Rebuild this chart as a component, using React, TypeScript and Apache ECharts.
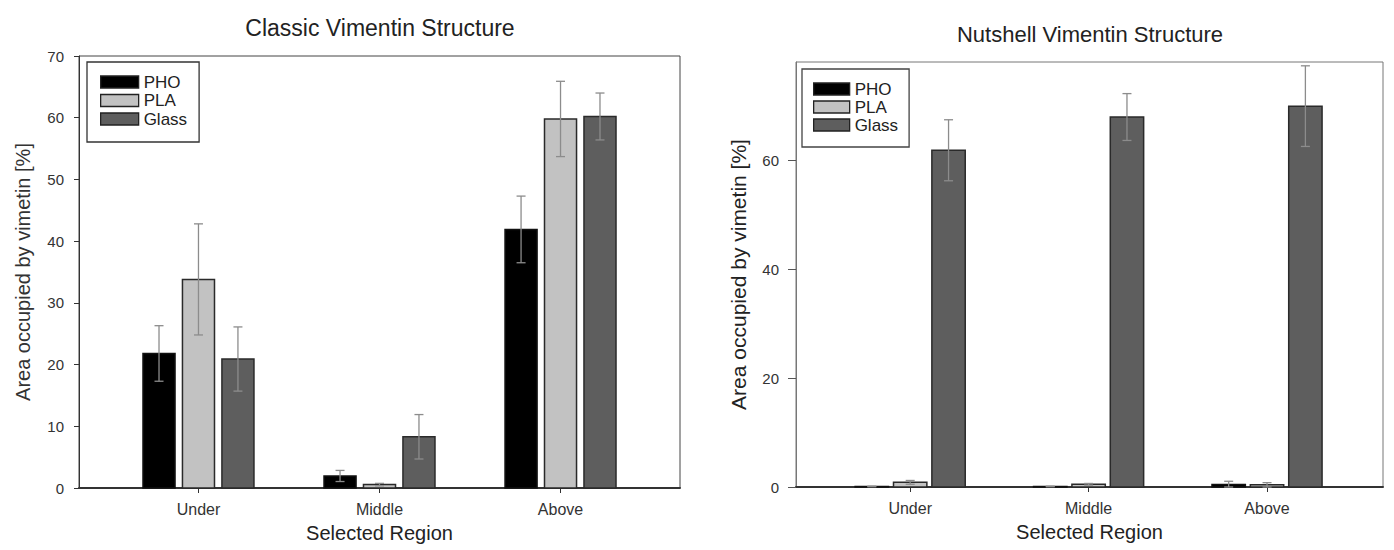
import React, { useEffect, useRef } from 'react';
import * as echarts from 'echarts';

// ---- data ----
const categories = ['Under', 'Middle', 'Above'];
const seriesNames = ['PHO', 'PLA', 'Glass'];

const classicPHO = [21.8, 1.95, 41.9];
const classicPHOErr = [4.5, 0.9, 5.4];
const classicPLA = [33.8, 0.55, 59.8];
const classicPLAErr = [9.0, 0.2, 6.1];
const classicGlass = [20.9, 8.3, 60.2];
const classicGlassErr = [5.2, 3.6, 3.8];

const nutshellPHO = [0.1, 0.1, 0.45];
const nutshellPHOErr = [0.05, 0.05, 0.6];
const nutshellPLA = [0.85, 0.5, 0.4];
const nutshellPLAErr = [0.35, 0.15, 0.4];
const nutshellGlass = [61.8, 67.9, 69.9];
const nutshellGlassErr = [5.6, 4.3, 7.4];

const classicYTicks = [0, 10, 20, 30, 40, 50, 60, 70];
const nutshellYTicks = [0, 20, 40, 60];
const categoryTicks = [0, 1, 2];

// ---- styles ----
const FONT = '"Liberation Sans", Arial, sans-serif';
const fills = ['#000000', '#c2c2c2', '#5e5e5e'];
const borders = ['#111111', '#2a2a2a', '#2a2a2a'];
const ERR_COLOR = '#8c8c8c';

function makeRenderItem(idx: number, offset: number, width: number, capHalf: number) {
  return (params: any, api: any) => {
    const cat = api.value(0);
    const val = api.value(1);
    const err = api.value(2);
    const cx = cat + offset;
    const tl = api.coord([cx - width / 2, val]);
    const br = api.coord([cx + width / 2, 0]);
    const top = api.coord([cx, val + err]);
    const bot = api.coord([cx, Math.max(val - err, 0)]);
    return {
      type: 'group',
      children: [
        {
          type: 'rect',
          shape: { x: tl[0], y: tl[1], width: br[0] - tl[0], height: br[1] - tl[1] },
          style: { fill: fills[idx], stroke: borders[idx], lineWidth: 1.5 },
        },
        {
          type: 'line',
          shape: { x1: top[0], y1: top[1], x2: bot[0], y2: bot[1] },
          style: { stroke: ERR_COLOR, lineWidth: 1.3 },
        },
        {
          type: 'line',
          shape: { x1: top[0] - capHalf, y1: top[1], x2: top[0] + capHalf, y2: top[1] },
          style: { stroke: ERR_COLOR, lineWidth: 1.3 },
        },
        {
          type: 'line',
          shape: { x1: bot[0] - capHalf, y1: bot[1], x2: bot[0] + capHalf, y2: bot[1] },
          style: { stroke: ERR_COLOR, lineWidth: 1.3 },
        },
      ],
    };
  };
}

function buildSeries(
  gridIdx: number,
  values: number[][],
  errs: number[][],
  offset: number,
  width: number
) {
  return seriesNames.map((name, s) => ({
    type: 'custom',
    name,
    xAxisIndex: gridIdx,
    yAxisIndex: gridIdx,
    itemStyle: { color: fills[s], borderColor: borders[s], borderWidth: 1.2 },
    encode: { x: 0, y: 1 },
    renderItem: makeRenderItem(s, (s - 1) * offset, width, 4.5),
    data: categories.map((c, i) => [i, values[s][i], errs[s][i]]),
  }));
}

export default function App() {
  const ref = useRef<HTMLDivElement>(null);

  useEffect(() => {
    document.body.style.margin = '0';
    if (!ref.current) return;
    const chart = echarts.init(ref.current, undefined, { renderer: 'svg' });

    const xAxisBase = (min: number, max: number) => ({
      type: 'value',
      min,
      max,
      axisLine: { show: true, onZero: false, lineStyle: { color: '#333', width: 2 } },
      axisTick: { show: true, customValues: categoryTicks, length: 5, lineStyle: { color: '#333' } },
      axisLabel: {
        customValues: categoryTicks,
        formatter: (v: number) => categories[Math.round(v)] ?? '',
        fontSize: 16,
        fontFamily: FONT,
        color: '#333',
        margin: 13,
      },
      splitLine: { show: false },
      name: 'Selected Region',
      nameLocation: 'middle',
      nameGap: 35,
      nameTextStyle: { fontSize: 20, fontFamily: FONT, color: '#222' },
    });

    const option = {
      animation: false,
      backgroundColor: '#ffffff',
      title: [
        {
          text: 'Classic Vimentin Structure',
          left: 380,
          top: 16,
          textAlign: 'center',
          padding: 0,
          textStyle: { fontSize: 23, fontWeight: 'normal', fontFamily: FONT, color: '#222' },
        },
        {
          text: 'Nutshell Vimentin Structure',
          left: 1090,
          top: 23,
          textAlign: 'center',
          padding: 0,
          textStyle: { fontSize: 22, fontWeight: 'normal', fontFamily: FONT, color: '#222' },
        },
      ],
      legend: [
        {
          data: seriesNames,
          orient: 'vertical',
          left: 87,
          top: 62,
          icon: 'rect',
          itemWidth: 38,
          itemHeight: 12,
          itemGap: 1.5,
          itemTextGap: 9,
          padding: [11.5, 12, 14.5, 13],
          borderColor: '#333',
          borderWidth: 1.3,
          selectedMode: false,
          itemStyle: { borderColor: '#222', borderWidth: 1.3 },
          textStyle: { fontSize: 17, fontFamily: FONT, color: '#222' },
        },
        {
          data: seriesNames,
          orient: 'vertical',
          left: 802,
          top: 69,
          icon: 'rect',
          itemWidth: 36,
          itemHeight: 12,
          itemGap: 1,
          itemTextGap: 9,
          padding: [11.5, 11, 13.5, 11],
          borderColor: '#444',
          borderWidth: 1.3,
          selectedMode: false,
          itemStyle: { borderColor: '#222', borderWidth: 1.3 },
          textStyle: { fontSize: 17, fontFamily: FONT, color: '#222' },
        },
      ],
      grid: [
        { left: 79, top: 56, width: 601, height: 432, show: true, borderColor: '#444', borderWidth: 1 },
        { left: 796, top: 62, width: 587, height: 425, show: true, borderColor: '#777', borderWidth: 1 },
      ],
      xAxis: [
        { ...xAxisBase(-0.66, 2.66), gridIndex: 0 },
        { ...xAxisBase(-0.64, 2.65), gridIndex: 1 },
      ],
      yAxis: [
        {
          type: 'value',
          gridIndex: 0,
          min: 0,
          max: 70,
          axisLine: { show: true, onZero: false, lineStyle: { color: '#333', width: 1 } },
          axisTick: { show: true, customValues: classicYTicks, length: 5, lineStyle: { color: '#333' } },
          axisLabel: { customValues: classicYTicks, fontSize: 15, fontFamily: FONT, color: '#333', margin: 15 },
          splitLine: { show: false },
          name: 'Area occupied by vimetin [%]',
          nameLocation: 'middle',
          nameGap: 46,
          nameTextStyle: { fontSize: 20, fontFamily: FONT, color: '#333' },
        },
        {
          type: 'value',
          gridIndex: 1,
          min: 0,
          max: 78,
          axisLine: { show: true, onZero: false, lineStyle: { color: '#777', width: 1 } },
          axisTick: { show: true, customValues: nutshellYTicks, length: 8, lineStyle: { color: '#555' } },
          axisLabel: { customValues: nutshellYTicks, fontSize: 15, fontFamily: FONT, color: '#333', margin: 17 },
          splitLine: { show: false },
          name: 'Area occupied by vimetin [%]',
          nameLocation: 'middle',
          nameGap: 47,
          nameTextStyle: { fontSize: 21, fontFamily: FONT, color: '#222' },
        },
      ],
      series: [
        ...buildSeries(
          0,
          [classicPHO, classicPLA, classicGlass],
          [classicPHOErr, classicPLAErr, classicGlassErr],
          0.218,
          0.177
        ),
        ...buildSeries(
          1,
          [nutshellPHO, nutshellPLA, nutshellGlass],
          [nutshellPHOErr, nutshellPLAErr, nutshellGlassErr],
          0.215,
          0.187
        ),
      ],
    };

    chart.setOption(option as any);
    return () => {
      chart.dispose();
    };
  }, []);

  return <div ref={ref} style={{ width: 1394, height: 550, display: 'block' }} />;
}
